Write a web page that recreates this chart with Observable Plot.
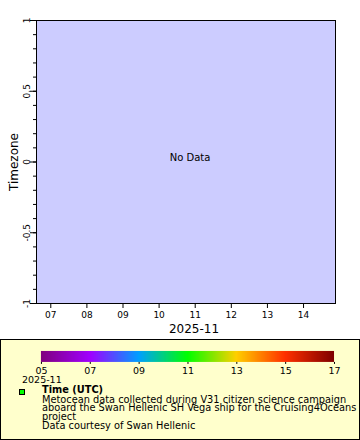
<!DOCTYPE html>
<html><head><meta charset="utf-8">
<script src="https://cdn.jsdelivr.net/npm/d3@7"></script>
<script src="https://cdn.jsdelivr.net/npm/@observablehq/plot@0.6"></script>
<style>
body{margin:0;background:#fff;font-family:"DejaVu Sans",sans-serif;}
#wrap{position:relative;width:360px;height:440px;overflow:hidden;background:#fff}
#chart{position:absolute;left:0;top:0}
#leg{position:absolute;left:0;top:339px;width:358px;height:99px;border:1px solid #000;background:#ffffcc}
#cb{position:absolute;left:-1px;top:-1px}
.lt{position:absolute;white-space:nowrap;color:#000;font-family:"DejaVu Sans",sans-serif}
#legDate{left:21px;top:35px;font-size:9.5px;line-height:9.5px;height:9.5px}
#legSwatch{position:absolute;left:18px;top:49px;width:4px;height:4px;border:1px solid #000;background:#00ff00}
#legTitle{left:41px;top:45.2px;font-size:9.8px;line-height:9.8px;height:9.8px;font-weight:bold}
#legBody{position:absolute;left:41px;top:55.5px}
#legBody div{font-size:9.8px;line-height:8.77px;height:8.77px;white-space:nowrap;color:#000}
</style></head><body>
<div id="wrap">
  <div id="chart"></div>
  <div id="leg">
    <div id="cb"></div>
    <div class="lt" id="legDate"></div>
    <div id="legSwatch"></div>
    <div class="lt" id="legTitle"></div>
    <div id="legBody"></div>
  </div>
</div>
<script>
// ---- data ----
const observations = [];               // no data points in this time range
const xDomain = ["2025-11-06T14:30Z", "2025-11-14T21:15Z"];
const xTickDates = ["2025-11-07","2025-11-08","2025-11-09","2025-11-10","2025-11-11","2025-11-12","2025-11-13","2025-11-14"];
const xTitle = "2025-11";
const yDomain = [-1, 1];
const yMajorTicks = [-1, -0.5, 0, 0.5, 1];
const yMajorLabels = ["-1", "-0.5", "0", "0.5", "1"];
const yMinorTicks = [-1,-0.9,-0.8,-0.7,-0.6,-0.5,-0.4,-0.3,-0.2,-0.1,0,0.1,0.2,0.3,0.4,0.5,0.6,0.7,0.8,0.9,1];
const yTitle = "Timezone";
const noDataText = "No Data";
const cbDomain = [5, 17];
const cbTicks = [5, 7, 9, 11, 13, 15, 17];
const cbColors = ["#800080", "#a000ff", "#00a0ff", "#00ff00", "#ffd000", "#ff3000", "#800000"];
const cbMonth = "2025-11";
const legendTitle = "Time (UTC)";
const legendLines = [
  "Metocean data collected during V31 citizen science campaign",
  "aboard the Swan Hellenic SH Vega ship for the Cruising4Oceans",
  "project",
  "Data courtesy of Swan Hellenic"
];

// ---- main chart ----
const chart = Plot.plot({
  width: 360, height: 339,
  marginTop: 20, marginRight: 25, marginBottom: 36, marginLeft: 36,
  style: {fontFamily: "DejaVu Sans", fontSize: "9px", color: "#000", background: "transparent"},
  x: {type: "utc", domain: xDomain.map(d => new Date(d))},
  y: {domain: yDomain},
  color: {type: "linear", domain: cbDomain, range: cbColors, interpolate: "rgb"},
  marks: [
    Plot.frame({fill: "#ccccff"}),
    Plot.dot(observations, {x: "time", y: "timezone", fill: "day"}),
    Plot.axisX({ticks: xTickDates.map(d => new Date(d + "T00:00Z")), tickFormat: d3.utcFormat("%d"), tickSize: 5, tickPadding: 3, label: null}),
    Plot.axisY({ticks: yMinorTicks, tickSize: 3, tickFormat: () => "", label: null}),
    Plot.axisY({ticks: yMajorTicks, tickSize: 6, tickFormat: () => "", label: null}),
    Plot.text(yMajorTicks, {y: d => d, text: (d, i) => yMajorLabels[i], frameAnchor: "left", dx: -7, rotate: -90, textAnchor: "middle", lineAnchor: "bottom", fontSize: 9}),
    Plot.frame({stroke: "#000"}),
    Plot.text([yTitle], {frameAnchor: "left", dx: -19, rotate: -90, textAnchor: "middle", lineAnchor: "bottom", fontSize: 12}),
    Plot.text([xTitle], {frameAnchor: "bottom", dx: 8, dy: 29, lineAnchor: "bottom", fontSize: 12}),
    Plot.text([noDataText], {frameAnchor: "middle", dx: 4, dy: -4, fontSize: 10})
  ]
});
document.getElementById("chart").appendChild(chart);

// ---- colour bar legend ----
const cb = Plot.legend({
  color: {type: "linear", domain: cbDomain, range: cbColors, interpolate: "rgb"},
  width: 360, height: 40, marginTop: 12, marginBottom: 17, marginLeft: 41, marginRight: 25,
  ticks: cbTicks, tickSize: 2, tickFormat: d => String(d).padStart(2, "0"), label: null,
  style: {fontFamily: "DejaVu Sans", fontSize: "9.5px", color: "#000", background: "transparent", overflow: "visible"}
});
cb.querySelectorAll(".tick line").forEach(l => l.setAttribute("y1", "0"));
document.getElementById("cb").appendChild(cb);

document.getElementById("legDate").textContent = cbMonth;
document.getElementById("legTitle").textContent = legendTitle;
const body = document.getElementById("legBody");
legendLines.forEach(t => { const d = document.createElement("div"); d.textContent = t; body.appendChild(d); });
</script>
</body></html>
